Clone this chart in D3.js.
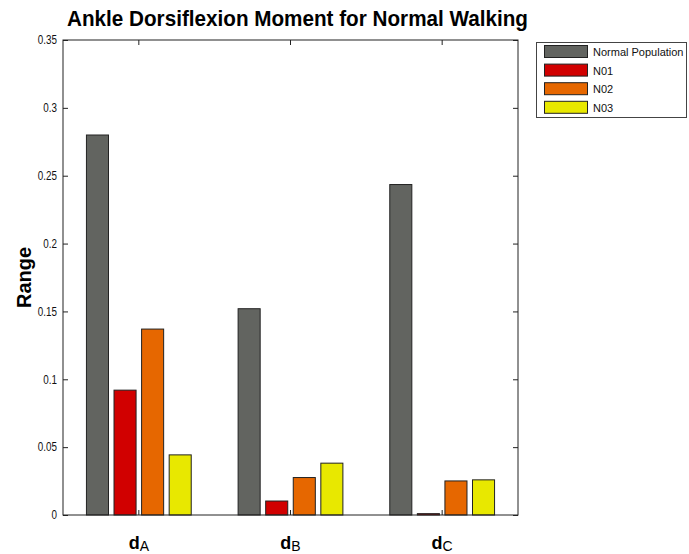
<!DOCTYPE html>
<html>
<head>
<meta charset="utf-8">
<script src="https://cdn.jsdelivr.net/npm/d3@7"></script>
<style>
  body { margin: 0; background: #fff; }
  text { font-family: "Liberation Sans", Arial, sans-serif; }
</style>
</head>
<body>
<svg id="chart"></svg>
<script>
// values
var categories = ["A", "B", "C"];
var series = ["Normal Population", "N01", "N02", "N03"];
var normalPop = [0.280, 0.152, 0.2435];
var n01 = [0.092, 0.0103, 0.001];
var n02 = [0.137, 0.0276, 0.0251];
var n03 = [0.0443, 0.0382, 0.0259];
var yTicks = [0, 0.05, 0.1, 0.15, 0.2, 0.25, 0.3, 0.35];
var colors = ["#626460", "#d10000", "#e66700", "#e8e800"];

var values = [normalPop, n01, n02, n03];
var data = categories.map(function(c, i) {
  return {cat: c, vals: series.map(function(s, j) { return {key: s, value: values[j][i], idx: j}; })};
});

var W = 689, H = 554;
var pLeft = 63, pRight = 518, pTop = 40, pBottom = 515;

// squeeze text horizontally, the matlab fonts are narrow
function narrow(sel, k) {
  sel.each(function() {
    var len = this.getComputedTextLength();
    d3.select(this).attr("textLength", len * k).attr("lengthAdjust", "spacingAndGlyphs");
  });
}

var svg = d3.select("#chart").attr("width", W).attr("height", H);
svg.append("rect").attr("width", W).attr("height", H).attr("fill", "#fff");

var x = d3.scaleBand().domain(categories).range([pLeft, pRight]);
var gw = x.bandwidth() * (series.length / (series.length + 1.5));
var x1 = d3.scaleBand().domain(series).range([-gw / 2, gw / 2]).paddingInner(0.2).paddingOuter(0.1);
var y = d3.scaleLinear().domain([0, 0.35]).range([pBottom, pTop]);

// title
svg.append("text")
  .attr("x", 67).attr("y", 26)
  .attr("textLength", 461).attr("lengthAdjust", "spacingAndGlyphs")
  .style("font-weight", "bold").style("font-size", "22px")
  .text("Ankle Dorsiflexion Moment for Normal Walking");

// y label
svg.append("text")
  .attr("transform", "translate(31," + ((pTop + pBottom) / 2) + ") rotate(-90)")
  .attr("text-anchor", "middle")
  .style("font-weight", "bold").style("font-size", "20px")
  .text("Range");

// bars
var g = svg.selectAll(".grp").data(data).enter().append("g")
  .attr("class", "grp")
  .attr("transform", function(d) { return "translate(" + (x(d.cat) + x.bandwidth() / 2) + ",0)"; });

g.selectAll("rect").data(function(d) { return d.vals; }).enter().append("rect")
  .attr("x", function(d) { return x1(d.key); })
  .attr("width", x1.bandwidth())
  .attr("y", function(d) { return y(d.value); })
  .attr("height", function(d) { return y(0) - y(d.value); })
  .attr("fill", function(d) { return colors[d.idx]; })
  .attr("stroke", "#222").attr("stroke-width", 1);

// axes, ticks pointing inward
var axisStyle = function(sel) {
  sel.select(".domain").remove();
  sel.selectAll(".tick line").attr("stroke", "#222");
  sel.selectAll("text").style("font-size", "12px").attr("fill", "#111");
};

var yAx = svg.append("g").attr("transform", "translate(" + pLeft + ",0)")
  .call(d3.axisLeft(y).tickValues(yTicks).tickSize(-5).tickPadding(6).tickFormat(d3.format("~g")))
  .call(axisStyle);
narrow(yAx.selectAll("text"), 0.82);
svg.append("g").attr("transform", "translate(" + pRight + ",0)")
  .call(d3.axisRight(y).tickValues(yTicks).tickSize(-5).tickFormat(""))
  .call(axisStyle);
svg.append("g").attr("transform", "translate(0," + pBottom + ")")
  .call(d3.axisBottom(x).tickSize(-5).tickFormat(""))
  .call(axisStyle);
svg.append("g").attr("transform", "translate(0," + pTop + ")")
  .call(d3.axisTop(x).tickSize(-5).tickFormat(""))
  .call(axisStyle);

svg.append("rect")
  .attr("x", pLeft).attr("y", pTop)
  .attr("width", pRight - pLeft).attr("height", pBottom - pTop)
  .attr("fill", "none").attr("stroke", "#222").attr("stroke-width", 1);

// category labels d with subscript
var xl = svg.selectAll(".xl").data(categories).enter().append("text")
  .attr("class", "xl")
  .attr("x", function(d) { return x(d) + x.bandwidth() / 2; })
  .attr("y", 549)
  .attr("text-anchor", "middle");
xl.append("tspan").style("font-weight", "bold").style("font-size", "18px").text("d");
xl.append("tspan").attr("dy", 2).style("font-size", "14px")
  .text(function(d) { return d; });

// legend
var lg = svg.append("g");
lg.append("rect").attr("x", 536.5).attr("y", 42.5).attr("width", 150).attr("height", 75)
  .attr("fill", "#fff").attr("stroke", "#444");
var rows = lg.selectAll(".lr").data(series).enter().append("g")
  .attr("transform", function(d, i) { return "translate(0," + (45.5 + i * 18.6) + ")"; });
rows.append("rect").attr("x", 544.5).attr("width", 43).attr("height", 12)
  .attr("fill", function(d, i) { return colors[i]; })
  .attr("stroke", "#222");
rows.append("text").attr("x", 593).attr("y", 10.5)
  .style("font-size", "11px").attr("fill", "#111")
  .text(function(d) { return d; });
</script>
</body>
</html>
